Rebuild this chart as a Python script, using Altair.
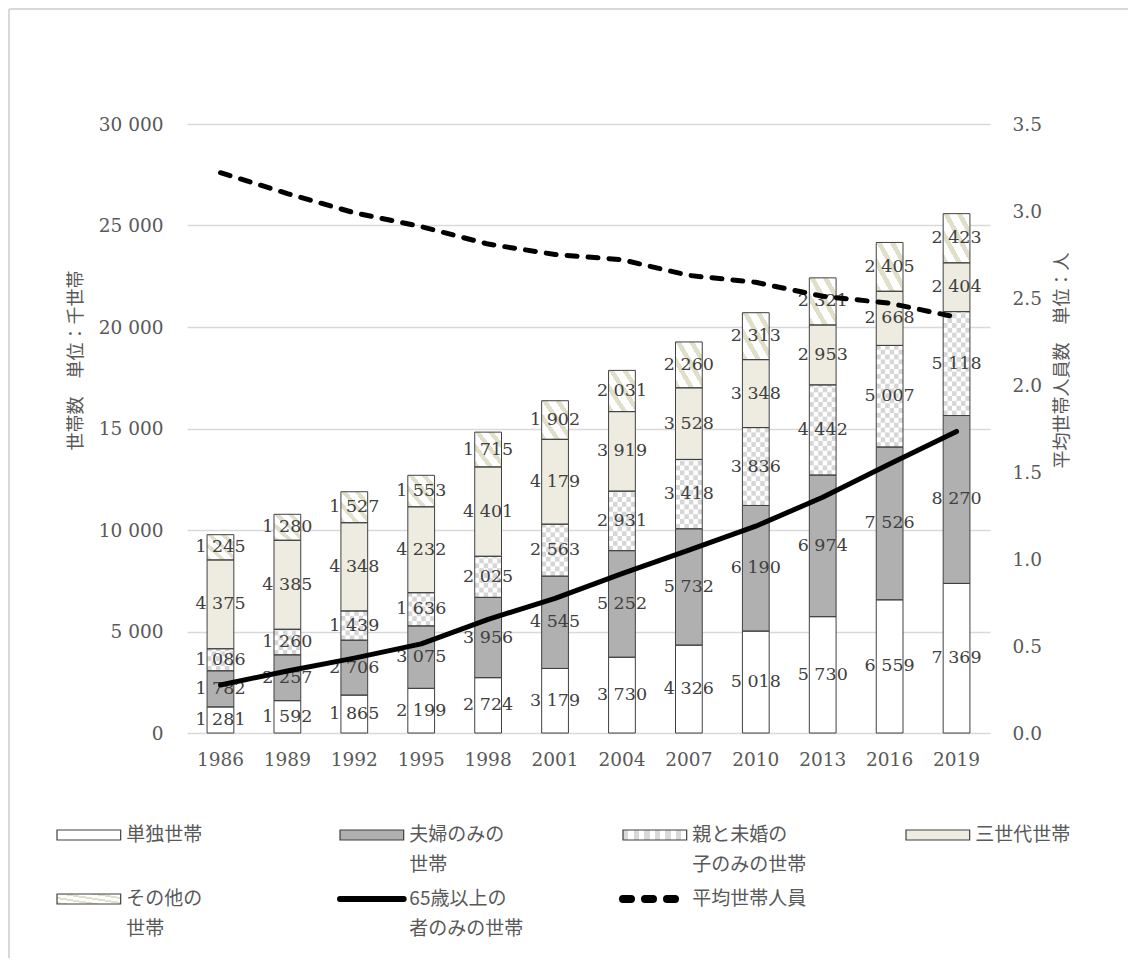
import altair as alt
import pandas as pd

# ---------------- data ----------------
years = ["1986", "1989", "1992", "1995", "1998", "2001", "2004", "2007", "2010", "2013", "2016", "2019"]
categories = ["単独世帯", "夫婦のみの世帯", "親と未婚の子のみの世帯", "三世代世帯", "その他の世帯"]
tandoku = [1281, 1592, 1865, 2199, 2724, 3179, 3730, 4326, 5018, 5730, 6559, 7369]
fufu = [1782, 2257, 2706, 3075, 3956, 4545, 5252, 5732, 6190, 6974, 7526, 8270]
oya_ko = [1086, 1260, 1439, 1636, 2025, 2563, 2931, 3418, 3836, 4442, 5007, 5118]
sansedai = [4375, 4385, 4348, 4232, 4401, 4179, 3919, 3528, 3348, 2953, 2668, 2404]
sonota = [1245, 1280, 1527, 1553, 1715, 1902, 2031, 2260, 2313, 2321, 2405, 2423]
elderly_only = [2362, 3057, 3688, 4390, 5597, 6636, 7855, 9009, 10188, 11614, 13252, 14856]
avg_members = [3.22, 3.10, 2.99, 2.91, 2.81, 2.75, 2.72, 2.63, 2.59, 2.51, 2.47, 2.39]
left_ticks = [0, 5000, 10000, 15000, 20000, 25000, 30000]
right_ticks = [0.0, 0.5, 1.0, 1.5, 2.0, 2.5, 3.0, 3.5]
legend_line1 = ["単独世帯", "夫婦のみの", "親と未婚の", "三世代世帯", "その他の", "65歳以上の", "平均世帯人員"]
legend_line2 = ["", "世帯", "子のみの世帯", "", "世帯", "者のみの世帯", ""]

series = [tandoku, fufu, oya_ko, sansedai, sonota]
rows = []
for i, yr in enumerate(years):
    for k, cat in enumerate(categories):
        rows.append({"year": yr, "cat": cat, "order": k, "value": series[k][i]})
bars_df = pd.DataFrame(rows)
lines_df = pd.DataFrame({"year": years, "elderly": elderly_only, "avg": avg_members})
leg_df = pd.DataFrame({"l1": legend_line1, "l2": legend_line2})

# ---------------- style ----------------
W, H = 803, 609
SERIF = "DejaVu Serif"
JP = "Noto Sans CJK JP"
TXT = "#595959"
EDGE = "#404040"
GRID = "#D9D9D9"


def stripes(n, color, frac, x1, y1, x2, y2):
    stops = []
    for k in range(n):
        a, b, c = k / n, (k + frac) / n, (k + 1) / n
        stops += [{"offset": a, "color": color}, {"offset": b, "color": color},
                  {"offset": b, "color": "#FFFFFF"}, {"offset": c, "color": "#FFFFFF"}]
    return {"gradient": "linear", "x1": x1, "y1": y1, "x2": x2, "y2": y2, "stops": stops}


other_fill = stripes(4, "#DFDFCA", 0.4, 0, 1, 1, 0)
fills = ["#FFFFFF", "#B0B0B0", "#FFFFFF", "#EEECE1", other_fill]

x_enc = alt.X("year:O", scale=alt.Scale(paddingInner=0.6, paddingOuter=0.3),
              axis=alt.Axis(title=None, labelAngle=0, domain=False, ticks=False, grid=False,
                            labelPadding=17, labelFont=SERIF, labelFontSize=18.5, labelColor=TXT))
yl_scale = alt.Scale(domain=[0, 30000], nice=False, zero=True)
yl_axis = alt.Axis(title="世帯数　単位：千世帯", values=left_ticks,
                   labelExpr="replace(format(datum.value, ','), ',', ' ')",
                   grid=True, gridColor=GRID, gridWidth=1.5, domain=False, ticks=False,
                   labelPadding=24, labelFont=SERIF, labelFontSize=18.5, labelColor=TXT,
                   titleFont=JP, titleFontSize=18, titleFontWeight="normal", titleColor=TXT,
                   titleAngle=270, titleY=236, titlePadding=13)


def yl(field):
    return alt.Y(field, scale=yl_scale, axis=yl_axis)


base = alt.Chart(bars_df).transform_stack(
    stack="value", groupby=["year"], as_=["y0", "y1"],
    sort=[alt.SortField("order", order="ascending")])

bar_layers = []
for k, cat in enumerate(categories):
    bar_layers.append(
        base.transform_filter(alt.datum.cat == cat)
        .mark_bar(fill=fills[k], strokeWidth=0)
        .encode(x=x_enc, y=yl("y0:Q"), y2="y1:Q"))

CELL = 240
checker = (
    base.transform_filter(alt.datum.cat == categories[2])
    .transform_calculate(rr=f"sequence(0, ceil(datum.value / {CELL}))", cc="sequence(0, 6)")
    .transform_flatten(["rr"]).transform_flatten(["cc"])
    .transform_filter("(datum.rr + datum.cc) % 2 == 0")
    .transform_calculate(ya=f"datum.y0 + datum.rr * {CELL}",
                         yb=f"min(datum.y0 + (datum.rr + 1) * {CELL}, datum.y1)")
    .mark_bar(fill="#D6D6D6", strokeWidth=0)
    .encode(x=x_enc, xOffset=alt.XOffset("cc:O", scale=alt.Scale(paddingInner=0, paddingOuter=0)),
            y=yl("ya:Q"), y2="yb:Q"))

outline = base.mark_bar(fillOpacity=0, stroke=EDGE, strokeWidth=1).encode(
    x=x_enc, y=yl("y0:Q"), y2="y1:Q")

labels = base.transform_calculate(
    mid="(datum.y0 + datum.y1) / 2",
    label="replace(format(datum.value, ','), ',', ' ')"
).mark_text(font=SERIF, fontSize=17.5, color=EDGE).encode(
    x=x_enc, y=yl("mid:Q"), text="label:N")

elderly = alt.Chart(lines_df).mark_line(color="black", strokeWidth=5, strokeCap="round",
                                        strokeJoin="round").encode(x=x_enc, y=yl("elderly:Q"))

left = alt.layer(*bar_layers, checker, outline, labels, elderly)

avg = alt.Chart(lines_df).mark_line(color="black", strokeWidth=5, strokeDash=[10, 11],
                                    strokeCap="round").encode(
    x=x_enc,
    y=alt.Y("avg:Q", scale=alt.Scale(domain=[0, 3.5], nice=False, zero=True),
            axis=alt.Axis(orient="right", title="平均世帯人員数　単位：人", values=right_ticks,
                          format=".1f", grid=False, domain=False, ticks=False,
                          labelPadding=22, labelFont=SERIF, labelFontSize=18.5, labelColor=TXT,
                          titleFont=JP, titleFontSize=18, titleFontWeight="normal", titleColor=TXT,
                          titleAngle=270, titleY=236, titlePadding=30)))

main = alt.layer(left, avg).resolve_scale(y="independent").properties(width=W, height=H)

# ---------------- legend ----------------
lx = alt.Scale(domain=[0, 4], range=[-130, 1002])
ly = alt.Scale(domain=[0, 1], range=[82, 146])
lbase = alt.Chart(leg_df).transform_window(idx="row_number()").transform_calculate(
    col="(datum.idx - 1) % 4", row="floor((datum.idx - 1) / 4)").transform_calculate(
    xe="datum.col + 0.225", ya="datum.row - 0.078", yb="datum.row + 0.078", xt="datum.col + 0.245")

checker_leg = stripes(6, "#D9D9D9", 0.5, 0, 0, 1, 0)
leg_fills = ["#FFFFFF", "#B0B0B0", checker_leg, "#EEECE1", other_fill]
leg_layers = []
for k in range(5):
    leg_layers.append(
        lbase.transform_filter(f"datum.idx == {k + 1}")
        .mark_rect(fill=leg_fills[k], stroke=EDGE, strokeWidth=1.2)
        .encode(x=alt.X("col:Q", scale=lx, axis=None), x2="xe:Q",
                y=alt.Y("ya:Q", scale=ly, axis=None), y2="yb:Q"))
leg_layers.append(
    lbase.transform_filter("datum.idx == 6").mark_rule(color="black", strokeWidth=6, strokeCap="round")
    .encode(x=alt.X("col:Q", scale=lx, axis=None), x2="xe:Q", y=alt.Y("row:Q", scale=ly, axis=None)))
leg_layers.append(
    lbase.transform_filter("datum.idx == 7").mark_rule(color="black", strokeWidth=8, strokeCap="round",
                                                       strokeDash=[8, 14])
    .encode(x=alt.X("col:Q", scale=lx, axis=None), x2="xe:Q", y=alt.Y("row:Q", scale=ly, axis=None)))
leg_layers.append(
    lbase.mark_text(align="left", baseline="middle", font=JP, fontSize=19, color=TXT)
    .encode(x=alt.X("xt:Q", scale=lx, axis=None), y=alt.Y("row:Q", scale=ly, axis=None), text="l1:N"))
leg_layers.append(
    lbase.mark_text(align="left", baseline="middle", font=JP, fontSize=19, color=TXT, dy=30)
    .encode(x=alt.X("xt:Q", scale=lx, axis=None), y=alt.Y("row:Q", scale=ly, axis=None), text="l2:N"))

frame_df = pd.DataFrame({"k": [0]})
frame_top = alt.Chart(frame_df).mark_rule(color=GRID, strokeWidth=2).encode(
    x=alt.value(-178), x2=alt.value(941), y=alt.value(-744))
frame_left = alt.Chart(frame_df).mark_rule(color=GRID, strokeWidth=2).encode(
    x=alt.value(-178), y=alt.value(-744), y2=alt.value(205))

legend = alt.layer(*leg_layers, frame_top, frame_left).properties(width=W, height=150)

chart = alt.vconcat(main, legend, spacing=20, bounds="flush", padding=0).configure_view(stroke=None)

chart.save("out.html", embed_options={"renderer": "svg", "actions": False})
